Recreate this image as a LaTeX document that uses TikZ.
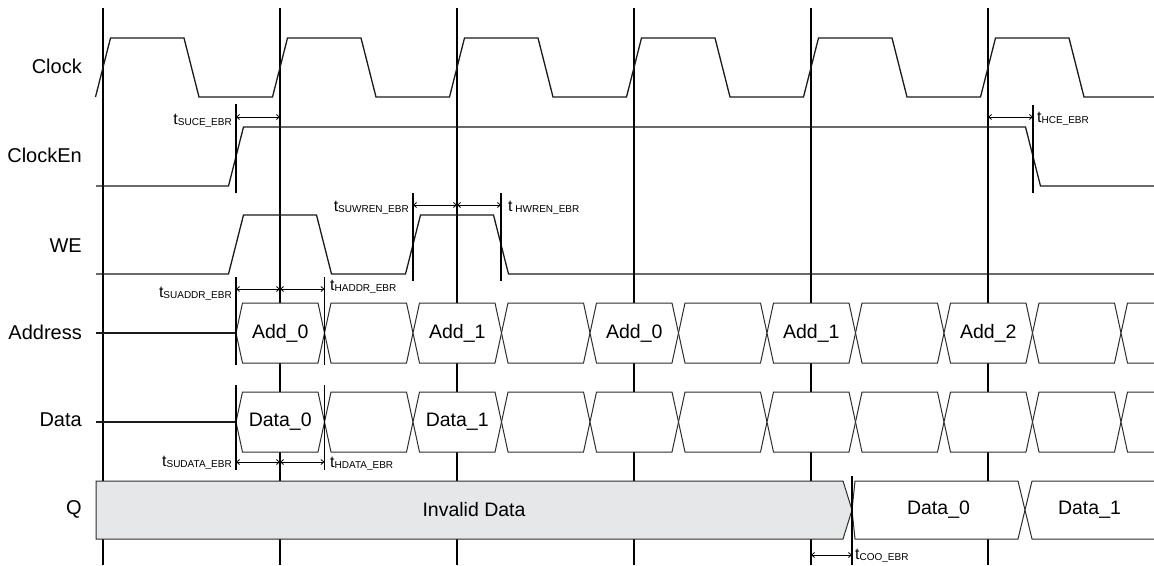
\documentclass[tikz,border=0pt]{standalone}
\usepackage{fontspec}
\setmainfont{Liberation Sans}
\usetikzlibrary{arrows.meta}
\definecolor{ln}{HTML}{1A1A1A}
\definecolor{bx}{HTML}{2E2E2E}
\definecolor{qgray}{HTML}{E6E7E8}
\newcommand\tlab[1]{{\fontsize{16}{16}\selectfont t}\raisebox{-1.5pt}{\fontsize{10}{10}\selectfont #1}}
\tikzset{
  sig/.style={line width=1.3pt, draw=ln, line join=miter},
  gridline/.style={line width=1.4pt, draw=black},
  hexbox/.style={line width=1pt, draw=bx, fill=white, line join=miter},
  tmarker/.style={line width=1.2pt, draw=black},
  dim/.style={line width=0.8pt, draw=black, {Straight Barb[length=3pt,width=5pt]}-{Straight Barb[length=3pt,width=5pt]}},
  signame/.style={anchor=east, font=\fontsize{20}{22}\selectfont, inner sep=0pt},
  val/.style={font=\fontsize{19.5}{22}\selectfont, inner sep=0pt},
  tl/.style={inner sep=0pt}
}
\begin{document}
\begin{tikzpicture}[x=1pt,y=-1pt]
\useasboundingbox (0,0) rectangle (1154,565);
\fill[white] (0,0) rectangle (1154,565);

% clock edge grid lines
\foreach \c [count=\i] in {103,280,457,634,811,988} {
  \coordinate (gt\i) at (\c,8);
  \coordinate (gb\i) at (\c,565);
  \draw[gridline] (gt\i) -- (gb\i);
}

% signal names
\node[signame] (nClock) at (82,66) {Clock};
\node[signame] (nClockEn) at (82,155) {ClockEn};
\node[signame] (nWE) at (82,246) {WE};
\node[signame] (nAddr) at (82,332) {Address};
\node[signame] (nData) at (82,420) {Data};
\node[signame] (nQ) at (82,509) {Q};

% Clock
\draw[sig] (95.5,97) foreach \c in {103,280,457,634,811,988} {
  -- ({\c-7.5},97) -- ({\c+7.5},38) -- ({\c+81},38) -- ({\c+96},97)
} -- (1154,97);

% ClockEn
\draw[sig] (96,186) -- (228.5,186) -- (243.5,127) -- (1025.5,127) -- (1040.5,186) -- (1154,186);

% WE
\draw[sig] (96,274) -- (228.5,274) -- (243.5,215) -- (316.5,215) -- (331.5,274)
  -- (405.5,274) -- (420.5,215) -- (493.5,215) -- (508.5,274) -- (1154,274);

% Address and Data buses
\foreach \yt/\ym/\yb in {303/333/363, 392/422/452} {
  \draw[sig] (96,\ym) -- (236,\ym);
  \foreach \k in {0,...,9} {
    \pgfmathsetmacro\a{236+88.5*\k}
    \pgfmathsetmacro\b{236+88.5*(\k+1)}
    \draw[hexbox] (\a,\ym) -- ({\a+6.5},\yt) -- ({\b-6.5},\yt) -- (\b,\ym) -- ({\b-6.5},\yb) -- ({\a+6.5},\yb) -- cycle;
  }
  \fill[white] (1121,\ym) -- (1127.5,\yt) -- (1154,\yt) -- (1154,\yb) -- (1127.5,\yb) -- cycle;
  \draw[hexbox] (1154,\yt) -- (1127.5,\yt) -- (1121,\ym) -- (1127.5,\yb) -- (1154,\yb);
}
\node[val] (a0) at (280.25,333) {Add\_0};
\node[val] (a1) at (457.25,333) {Add\_1};
\node[val] (a2) at (634.25,333) {Add\_0};
\node[val] (a3) at (811.25,333) {Add\_1};
\node[val] (a4) at (988.25,333) {Add\_2};
\node[val] (d0) at (280.25,422) {Data\_0};
\node[val] (d1) at (457.25,422) {Data\_1};

% Q
\draw[hexbox, fill=qgray] (96,481) -- (843,481) -- (852,510) -- (843,539) -- (96,539) -- cycle;
\draw[hexbox] (852,510) -- (855,481) -- (1018,481) -- (1025,510) -- (1018,539) -- (855,539) -- cycle;
\fill[white] (1025,510) -- (1032,481) -- (1154,481) -- (1154,539) -- (1032,539) -- cycle;
\draw[hexbox] (1154,481) -- (1032,481) -- (1025,510) -- (1032,539) -- (1154,539);
\node[val] (qinv) at (474,510) {Invalid Data};
\node[val] (q0) at (938.5,510) {Data\_0};
\node[val] (q1) at (1089.5,510) {Data\_1};

% timing markers
\draw[tmarker] (236,104) -- (236,193);
\draw[tmarker] (1033,105) -- (1033,193);
\draw[tmarker] (413,193) -- (413,281);
\draw[tmarker] (501,193) -- (501,281);
\draw[tmarker] (236,277) -- (236,365);
\draw[tmarker] (324.5,277) -- (324.5,365);
\draw[tmarker] (236,385) -- (236,470);
\draw[tmarker] (324.5,385) -- (324.5,470);
\draw[tmarker] (852,476) -- (852,565);

% dimension arrows
\coordinate (suceA) at (236,117);   \coordinate (suceB) at (280,117);
\coordinate (hceA) at (988,117);    \coordinate (hceB) at (1033,117);
\coordinate (wrA) at (413,205);     \coordinate (wrC) at (457,205);  \coordinate (wrB) at (501,205);
\coordinate (adA) at (236,289);     \coordinate (adC) at (280,289);  \coordinate (adB) at (324.5,289);
\coordinate (daA) at (236,462);     \coordinate (daC) at (280,462);  \coordinate (daB) at (324.5,462);
\coordinate (cooA) at (811,555);    \coordinate (cooB) at (852,555);
\draw[dim] (suceA) -- (suceB);
\draw[dim] (hceA) -- (hceB);
\draw[dim] (wrA) -- (wrC);
\draw[dim] (wrC) -- (wrB);
\draw[dim] (adA) -- (adC);
\draw[dim] (adC) -- (adB);
\draw[dim] (daA) -- (daC);
\draw[dim] (daC) -- (daB);
\draw[dim] (cooA) -- (cooB);

% timing labels
\node[tl, anchor=base east] (lsuce) at (232,124) {\tlab{SUCE\_EBR}};
\node[tl, anchor=base west] (lhce) at (1037,122) {\tlab{HCE\_EBR}};
\node[tl, anchor=base east] (lsuwren) at (409,211) {\tlab{SUWREN\_EBR}};
\node[tl, anchor=base west] (lhwren) at (508,211) {\tlab{ HWREN\_EBR}};
\node[tl, anchor=base east] (lsuaddr) at (232,297) {\tlab{SUADDR\_EBR}};
\node[tl, anchor=base west] (lhaddr) at (330,290) {\tlab{HADDR\_EBR}};
\node[tl, anchor=base east] (lsudata) at (232,466) {\tlab{SUDATA\_EBR}};
\node[tl, anchor=base west] (lhdata) at (330,467) {\tlab{HDATA\_EBR}};
\node[tl, anchor=base west] (lcoo) at (855,559) {\tlab{COO\_EBR}};
\end{tikzpicture}
\end{document}
